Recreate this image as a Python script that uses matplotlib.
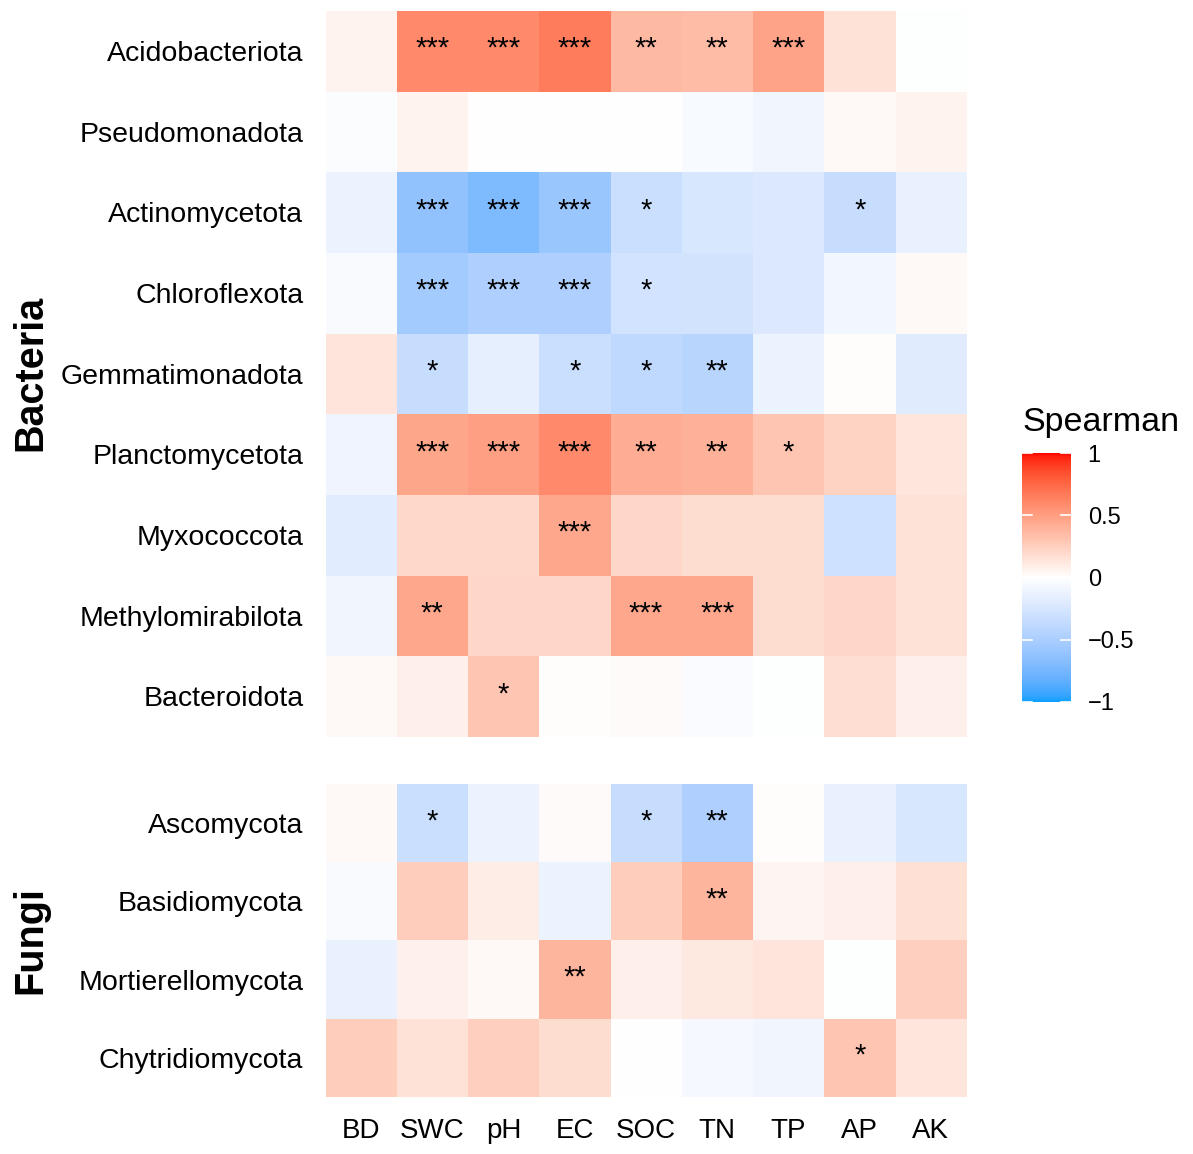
import numpy as np
import matplotlib
matplotlib.use("Agg")
import matplotlib.pyplot as plt
from matplotlib.colors import ListedColormap, to_rgb
from matplotlib.cm import ScalarMappable
from matplotlib.colors import Normalize

plt.rcParams["font.family"] = ["Liberation Sans", "DejaVu Sans"]

# soil properties (columns)
variables = ["BD", "SWC", "pH", "EC", "SOC", "TN", "TP", "AP", "AK"]

bacteria = ["Acidobacteriota", "Pseudomonadota", "Actinomycetota", "Chloroflexota",
            "Gemmatimonadota", "Planctomycetota", "Myxococcota", "Methylomirabilota",
            "Bacteroidota"]
fungi = ["Ascomycota", "Basidiomycota", "Mortierellomycota", "Chytridiomycota"]

# Spearman rho
bac_rho = [
    [0.06, 0.59, 0.59, 0.66, 0.36, 0.35, 0.47, 0.15, -0.01],
    [-0.03, 0.06, 0.0, 0.0, 0.0, -0.05, -0.09, 0.03, 0.06],
    [-0.11, -0.62, -0.71, -0.58, -0.32, -0.24, -0.22, -0.34, -0.13],
    [-0.04, -0.53, -0.47, -0.47, -0.28, -0.27, -0.22, -0.08, 0.03],
    [0.14, -0.34, -0.16, -0.32, -0.38, -0.42, -0.12, 0.01, -0.19],
    [-0.10, 0.46, 0.49, 0.59, 0.42, 0.40, 0.30, 0.23, 0.13],
    [-0.18, 0.20, 0.20, 0.45, 0.21, 0.175, 0.175, -0.30, 0.15],
    [-0.09, 0.45, 0.21, 0.21, 0.45, 0.45, 0.175, 0.21, 0.15],
    [0.03, 0.08, 0.30, 0.01, 0.02, -0.035, -0.01, 0.17, 0.08],
]
bac_sig = [
    ["", "***", "***", "***", "**", "**", "***", "", ""],
    ["", "", "", "", "", "", "", "", ""],
    ["", "***", "***", "***", "*", "", "", "*", ""],
    ["", "***", "***", "***", "*", "", "", "", ""],
    ["", "*", "", "*", "*", "**", "", "", ""],
    ["", "***", "***", "***", "**", "**", "*", "", ""],
    ["", "", "", "***", "", "", "", "", ""],
    ["", "**", "", "", "***", "***", "", "", ""],
    ["", "", "*", "", "", "", "", "", ""],
]

fungi_rho = [
    [0.03, -0.32, -0.11, 0.02, -0.34, -0.47, 0.01, -0.13, -0.24],
    [-0.04, 0.26, 0.09, -0.12, 0.26, 0.38, 0.05, 0.08, 0.16],
    [-0.13, 0.07, 0.03, 0.38, 0.08, 0.11, 0.14, -0.01, 0.25],
    [0.26, 0.15, 0.25, 0.175, 0.0, -0.06, -0.09, 0.30, 0.13],
]
fungi_sig = [
    ["", "*", "", "", "*", "**", "", "", ""],
    ["", "", "", "", "", "**", "", "", ""],
    ["", "", "", "**", "", "", "", "", ""],
    ["", "", "", "", "", "", "", "*", ""],
]

LOW, MID, HIGH = "#00A0FF", "#FFFFFF", "#FF0000"


# ggplot-like gradient2: interpolate in Lab space
def _srgb_to_lab(rgb):
    c = np.asarray(rgb, float)
    lin = np.where(c <= 0.04045, c / 12.92, ((c + 0.055) / 1.055) ** 2.4)
    m = np.array([[0.4124, 0.3576, 0.1805],
                  [0.2126, 0.7152, 0.0722],
                  [0.0193, 0.1192, 0.9505]])
    xyz = m @ lin / np.array([0.95047, 1.0, 1.08883])
    f = np.where(xyz > 0.008856, np.cbrt(xyz), 7.787 * xyz + 16 / 116)
    return np.array([116 * f[1] - 16, 500 * (f[0] - f[1]), 200 * (f[1] - f[2])])


def _lab_to_srgb(lab):
    L, a, b = lab
    fy = (L + 16) / 116
    fx = fy + a / 500
    fz = fy - b / 200
    f = np.array([fx, fy, fz])
    xyz = np.where(f ** 3 > 0.008856, f ** 3, (f - 16 / 116) / 7.787)
    xyz = xyz * np.array([0.95047, 1.0, 1.08883])
    m = np.array([[3.2406, -1.5372, -0.4986],
                  [-0.9689, 1.8758, 0.0415],
                  [0.0557, -0.2040, 1.0570]])
    lin = np.clip(m @ xyz, 0, 1)
    c = np.where(lin <= 0.0031308, 12.92 * lin, 1.055 * lin ** (1 / 2.4) - 0.055)
    return np.clip(c, 0, 1)


lab_lo, lab_mid, lab_hi = (_srgb_to_lab(to_rgb(c)) for c in (LOW, MID, HIGH))
colors = []
for v in np.linspace(-1, 1, 512):
    if v < 0:
        lab = lab_mid + (lab_lo - lab_mid) * (-v)
    else:
        lab = lab_mid + (lab_hi - lab_mid) * v
    colors.append(_lab_to_srgb(lab))
cmap = ListedColormap(colors)
norm = Normalize(-1, 1)

W, H = 1193, 1154
fig = plt.figure(figsize=(W / 100, H / 100), dpi=100)


def px_axes(x0, y0, x1, y1):
    return fig.add_axes([x0 / W, 1 - y1 / H, (x1 - x0) / W, (y1 - y0) / H])


def draw_panel(ax, rho, sig, names, show_x):
    arr = np.array(rho)
    ax.imshow(arr, cmap=cmap, norm=norm, aspect="auto", interpolation="nearest")
    for i in range(arr.shape[0]):
        for j in range(arr.shape[1]):
            if sig[i][j]:
                ax.text(j, i - 0.025, sig[i][j], ha="center", va="center",
                        fontsize=21, color="black")
    ax.set_yticks(range(len(names)))
    ax.set_yticklabels(names, fontsize=20.5)
    ax.set_xticks(range(len(variables)))
    if show_x:
        ax.set_xticklabels(variables, fontsize=20)
    else:
        ax.set_xticklabels([])
    ax.tick_params(length=0, pad=16)
    ax.tick_params(axis="x", pad=15)
    for s in ax.spines.values():
        s.set_visible(False)


ax_b = px_axes(325.5, 10.5, 966.5, 736.5)
ax_f = px_axes(325.5, 784, 966.5, 1097)
draw_panel(ax_b, bac_rho, bac_sig, bacteria, False)
draw_panel(ax_f, fungi_rho, fungi_sig, fungi, True)

fig.text(30 / W, 1 - 373 / H, "Bacteria", rotation=90, ha="center", va="center",
         fontsize=28.5, fontweight="bold")
fig.text(30 / W, 1 - 940 / H, "Fungi", rotation=90, ha="center", va="center",
         fontsize=28.5, fontweight="bold")

# colour bar
cax = px_axes(1022, 453, 1071, 702)
cb = fig.colorbar(ScalarMappable(norm=norm, cmap=cmap), cax=cax)
cb.outline.set_visible(False)
ticks = [-1, -0.5, 0, 0.5, 1]
cb.set_ticks(ticks)
cb.set_ticklabels(["\u22121", "\u22120.5", "0", "0.5", "1"])
cax.tick_params(length=0, pad=12, labelsize=17)
for t in ticks:
    cax.axhline(t, xmin=0, xmax=0.2, color="white", lw=1.2)
    cax.axhline(t, xmin=0.8, xmax=1, color="white", lw=1.2)
fig.text(1022 / W, 1 - 423 / H, "Spearman", ha="left", va="center", fontsize=24.5)

fig.savefig("out.png", dpi=100)
